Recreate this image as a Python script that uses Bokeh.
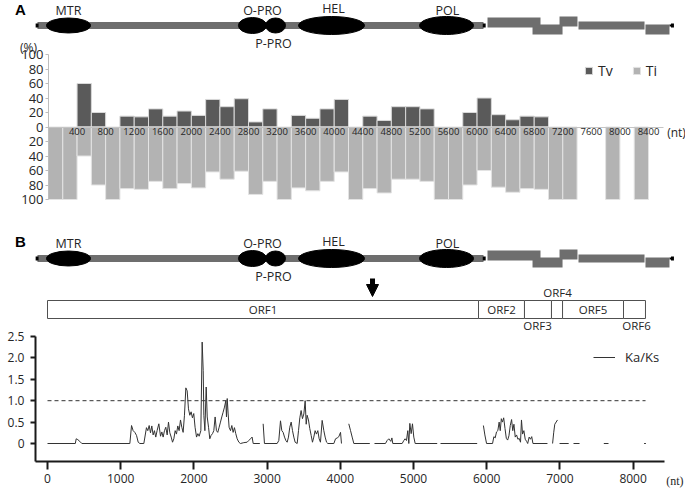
import numpy as np
from bokeh.plotting import figure
from bokeh.models import (Range1d, LinearAxis, FixedTicker, Legend, LegendItem,
                          Arrow, NormalHead, NumeralTickFormatter)
from bokeh.layouts import column
from bokeh.embed import file_html
from bokeh.resources import INLINE
from bokeh.core.properties import value

# ------------------------------------------------------------------ data
# Panel A: transversion / transition share per 200-nt window
bin_start = list(range(0, 8400, 200))
tv = [0, 0, 60, 20, 0, 15, 14, 25, 15, 22, 16, 38, 28, 39, 7, 25, 0, 16, 12, 25, 38,
      0, 15, 9, 28, 28, 25, 0, 0, 20, 40, 17, 10, 15, 14, 0, 0, 0, 0, 0, 0, 0]
ti = [100, 100, 40, 80, 100, 85, 86, 75, 85, 78, 84, 62, 72, 61, 93, 75, 100, 84, 88, 75, 62,
      100, 85, 91, 72, 72, 75, 100, 100, 80, 60, 83, 90, 85, 86, 100, 100, 0, 0, 100, 0, 100]
bar_ticks = list(range(400, 8401, 400))
pct_ticks = list(range(-100, 101, 20))

# genome schematic (nt)
genome_start, genome_end, orf1_region_end = -137, 8538, 5956
domain_names = ["MTR", "O-PRO", "P-PRO", "HEL", "POL"]
domain_center = [287, 2800, 3115, 3880, 5451]
domain_width = [601, 383, 273, 902, 738]
domain_label_x = [287, 2937, 3087, 3907, 5464]
sg_start = [6011, 6626, 6995, 7254, 8169]
sg_end = [6735, 7036, 7240, 8156, 8497]

# ORFs (nt)
orf_names = ["ORF1", "ORF2", "ORF3", "ORF4", "ORF5", "ORF6"]
orf_start = [0, 5888, 6516, 6885, 7036, 7869]
orf_end = [5888, 6516, 6885, 7036, 7869, 8169]
orf_label_x = [2944, 6202, 6694, 6967, 7453, 8046]
arrow_nt = 4440

# Panel B: Ka/Ks sliding window
nan = float("nan")
kaks_nt = [0, 380, 392, 414, 441, 469, 1125, 1148, 1170, 1193, 1216, 1239, 1262, 1316, 1352, 1370,
           1389, 1407, 1425, 1443, 1461, 1479, 1497, 1521, 1544, 1562, 1580, 1598, 1616, 1635, 1653,
           1671, 1690, 1708, 1726, 1744, 1762, 1780, 1798, 1817, 1835, 1853, 1871, 1890, 1908, 1926,
           1944, 1962, 1980, 1998, 2016, 2036, 2054, 2072, 2095, 2113, 2127, 2136, 2150, 2168, 2182,
           2200, 2217, 2235, 2254, 2272, 2290, 2308, 2326, 2345, 2363, 2381, 2399, 2418, 2436, 2445,
           2455, 2468, 2481, 2500, 2518, 2536, 2554, 2572, 2591, 2614, 2636, 2682, 2727, 2750, 2773,
           2795, 2810, 2901, nan,
           2946, 2964, 3137, 3160, 3183, 3201, 3219, 3238, 3256, 3274, 3292, 3310, 3329, 3347, 3365,
           3383, 3411, 3429, 3447, 3465, 3483, 3502, 3520, 3534, 3547, 3565, 3583, 3602, 3620, 3638,
           3656, 3674, 3693, 3711, 3729, 3752, 3775, 3793, 3812, 3830, 3912, 3935, 3958, 3980, 4003,
           4016, nan,
           4116, 4140, 4162, 4185, 4403, nan,
           4467, 4617, 4640, 4663, 4690, 4705, 4717, 4845, 4868, 4885, 4904, 4922, 4936, 4950, 4968,
           4986, 5004, 5023, 5324, nan,
           5369, 5870, nan,
           5955, 5975, 5998, 6080, 6098, 6116, 6134, 6152, 6170, 6185, 6200, 6215, 6232, 6250, 6268,
           6286, 6304, 6322, 6340, 6356, 6372, 6390, 6408, 6426, 6444, 6462, 6475, 6490, 6508, 6526,
           6545, 6560, 6580, 6598, 6615, 6632, 6830, nan,
           6900, 6915, 6930, 6967, nan,
           6995, 7120, nan,
           7186, 7268, nan,
           7600, 7664, nan,
           8150, 8175]
kaks = [0, 0, 0.11, 0.09, 0.05, 0, 0, 0.42, 0.3, 0.26, 0.19, 0.03, 0, 0, 0.37, 0.3,
        0.42, 0.25, 0.41, 0.2, 0.3, 0.15, 0.3, 0.46, 0.17, 0.27, 0.15, 0.3, 0.38, 0.2, 0.5,
        0.25, 0.15, 0.03, 0.11, 0.3, 0.22, 0.41, 0.3, 0.55, 0.38, 0.26, 0.66, 1.3, 1.23, 0.81,
        0.66, 0.74, 0.6, 0.7, 0.38, 0.15, 0.23, 0.17, 0.3, 2.37, 1.71, 0.66, 0.3, 1.32, 0.62,
        0.38, 0.11, 0.19, 0.23, 0.3, 0.62, 0.3, 0.26, 0.38, 0.5, 0.62, 0.73, 0.85, 1.0, 0.62,
        1.05, 0.69, 0.38, 0.3, 0.42, 0.26, 0.37, 0.23, 0.11, 0.03, 0, 0.02, 0.03, 0.07, 0.11,
        0.15, 0, 0, nan,
        0.46, 0, 0, 0.07, 0.53, 0.3, 0.26, 0.15, 0.07, 0.03, 0.15, 0.38, 0.5, 0.3, 0.15,
        0.03, 0, 0.3, 0.6, 0.77, 0.58, 0.69, 1.0, 0.45, 0.66, 0.55, 0.35, 0.19, 0.03, 0.15,
        0.3, 0.22, 0.3, 0.11, 0.03, 0.54, 0.3, 0.15, 0.03, 0, 0, 0.11, 0.13, 0.16, 0.26,
        0, nan,
        0.46, 0.3, 0.15, 0, 0, nan,
        0, 0, 0.07, 0.11, 0.05, 0.13, 0, 0, 0.07, 0.11, 0.07, 0.3, 0, 0.47, 0.23,
        0.46, 0.15, 0, 0, nan,
        0, 0, nan,
        0.42, 0.2, 0, 0, 0.16, 0.13, 0.27, 0.3, 0.5, 0.3, 0.58, 0.5, 0.6, 0.35, 0.12,
        0.08, 0.18, 0.42, 0.56, 0.3, 0.45, 0.15, 0.2, 0.1, 0.12, 0.03, 0.55, 0.22, 0.3, 0.1,
        0.05, 0, 0.15, 0.1, 0.16, 0, 0, nan,
        0, 0.25, 0.45, 0.55, nan,
        0, 0, nan,
        0, 0, nan,
        0, 0, nan,
        0, 0]
neutral_level = 1.0
neutral_span = [0, 8170]
line_ticks = list(range(0, 8001, 1000))
kaks_ticks = [0, 0.5, 1.0, 1.5, 2.0, 2.5]

# ------------------------------------------------------------------ layout / style
W = 685
kA = 600 / 8400.0     # px per nt, panel A bar chart
kB = 0.0732           # px per nt, panel B
FONT = "Open Sans"
TXT = "#262626"
GRAY = "#6e6e6e"
domain_height = [15, 16, 15, 18, 18]
domain_label_dy = [15, 15, -18, 17, 15]
sg_bottom = [-2, -9, -1, -4, -9]
sg_top = [8, 1, 9, 4, 1]


def draw_genome(p, xr, yr):
    kw = dict(x_range_name=xr, y_range_name=yr)
    p.quad(left=[genome_start], right=[orf1_region_end], bottom=[-3.5], top=[3.5],
           fill_color=GRAY, line_color=None, **kw)
    p.quad(left=[sg_end[-1]], right=[genome_end], bottom=[-1], top=[1],
           fill_color="black", line_color=None, **kw)
    p.quad(left=sg_start, right=sg_end, bottom=sg_bottom, top=sg_top,
           fill_color=GRAY, line_color=None, **kw)
    p.quad(left=[genome_start - 25, orf1_region_end - 10, genome_end - 20],
           right=[genome_start + 15, orf1_region_end + 30, genome_end + 20],
           bottom=[-2, -2, -2], top=[2, 2, 2], fill_color="black", line_color=None, **kw)
    p.ellipse(x=domain_center, y=[0] * 5, width=domain_width, height=domain_height,
              fill_color="black", line_color="black", **kw)
    p.text(x=domain_label_x, y=domain_label_dy, text=domain_names, text_font=value(FONT),
           text_font_size="12.5px", text_color=TXT, text_align="center",
           text_baseline="middle", **kw)


# ------------------------------------------------------------------ panel A
HA = 222
figA = figure(width=W, height=HA, x_range=Range1d(-48 / kA, 637 / kA),
              y_range=Range1d(-(HA - 126.5) / 0.725, 126.5 / 0.725),
              x_axis_type=None, y_axis_type=None, toolbar_location=None,
              output_backend="svg", min_border=0, outline_line_color=None)
figA.extra_x_ranges = {"gx": Range1d(-47 / kB, 638 / kB)}
figA.extra_y_ranges = {"gy": Range1d(25 - HA, 25)}

draw_genome(figA, "gx", "gy")
figA.text(x=[-369], y=[16], text=["A"], text_font=value("Liberation Sans"),
          text_font_style="bold", text_font_size="15px", text_color="black",
          text_align="center", text_baseline="middle", x_range_name="gx", y_range_name="gy")

tv_x = [s + 100 for s, v in zip(bin_start, tv) if v > 0]
tv_v = [v for v in tv if v > 0]
ti_x = [s + 100 for s, v in zip(bin_start, ti) if v > 0]
ti_v = [-v for v in ti if v > 0]
r_tv = figA.vbar(x=tv_x, width=200, bottom=0, top=tv_v, fill_color="#5a5a5a",
                 line_color="#d9d9d9", line_width=1)
r_ti = figA.vbar(x=ti_x, width=200, bottom=ti_v, top=0, fill_color="#b3b3b3",
                 line_color="#e3e3e3", line_width=1)

ya = LinearAxis(fixed_location=0, bounds=(-100, 100), ticker=FixedTicker(ticks=pct_ticks),
                major_label_overrides={t: str(abs(t)) for t in pct_ticks},
                axis_line_color="#bdbdbd", major_tick_line_color="#bdbdbd",
                major_tick_out=3, major_tick_in=0, minor_tick_line_color=None,
                major_label_standoff=2, major_label_text_font=FONT,
                major_label_text_font_size="13px", major_label_text_color=TXT)
figA.add_layout(ya, "left")
xa = LinearAxis(fixed_location=0, bounds=(0, 8610), ticker=FixedTicker(ticks=bar_ticks),
                axis_line_color="#c4c4c4", major_tick_line_color=None, major_tick_out=0,
                major_tick_in=0, minor_tick_line_color=None, major_label_standoff=1,
                major_label_text_font=FONT, major_label_text_font_size="9.5px",
                major_label_text_color=TXT)
figA.add_layout(xa, "below")

figA.text(x=[-280], y=[109.7], text=["(%)"], text_font=value(FONT), text_font_size="12px",
          text_color=TXT, text_align="center", text_baseline="middle")
figA.text(x=[8792], y=[-7.6], text=["(nt)"], text_font=value(FONT), text_font_size="12px",
          text_color=TXT, text_align="center", text_baseline="middle")

legA = Legend(items=[LegendItem(label="Tv", renderers=[r_tv]),
                     LegendItem(label="Ti", renderers=[r_ti])],
              orientation="horizontal", location=(584, HA - 79.5), padding=0, margin=0,
              spacing=19, glyph_width=9, glyph_height=9, label_height=9, label_width=10,
              label_standoff=5, border_line_color=None, background_fill_alpha=0,
              label_text_font=FONT, label_text_font_size="14px", label_text_color=TXT)
figA.add_layout(legA)

# ------------------------------------------------------------------ panel B
HB = 488 - HA
topB = HA
figB = figure(width=W, height=HB, x_range=Range1d(-47 / kB, 638 / kB),
              y_range=Range1d(-(488 - 443) / 42.8, (443 - topB) / 42.8),
              x_axis_type=None, y_axis_type=None, toolbar_location=None,
              output_backend="svg", min_border=0, outline_line_color=None)
figB.extra_y_ranges = {"gy": Range1d(258 - 488, 258 - topB)}

draw_genome(figB, "default", "gy")
figB.text(x=[-369], y=[17], text=["B"], text_font=value("Liberation Sans"),
          text_font_style="bold", text_font_size="15px", text_color="black",
          text_align="center", text_baseline="middle", y_range_name="gy")

figB.add_layout(Arrow(end=NormalHead(size=12, fill_color="black", line_color="black"),
                      x_start=arrow_nt, y_start=-20, x_end=arrow_nt, y_end=-38,
                      line_width=5, line_color="black", y_range_name="gy"))

figB.quad(left=orf_start, right=orf_end, bottom=-60, top=-42, fill_color="white",
          line_color="#505050", line_width=1, y_range_name="gy")
figB.text(x=orf_label_x, y=[-51, -51, -67, -34, -51, -67], text=orf_names,
          text_font=value(FONT), text_font_size="11.5px", text_color=TXT,
          text_align="center", text_baseline="middle", y_range_name="gy")

figB.line(x=neutral_span, y=[neutral_level, neutral_level], line_color="#333333",
          line_width=1, line_dash="4 3")
r_k = figB.line(x=kaks_nt, y=kaks, line_color="#333333", line_width=1)

yb = LinearAxis(fixed_location=-164, bounds=(-0.42, 2.5), ticker=FixedTicker(ticks=kaks_ticks),
                formatter=NumeralTickFormatter(format="0.0"), major_label_overrides={0: "0"},
                axis_line_width=2, axis_line_color="#1a1a1a", major_tick_line_width=2,
                major_tick_line_color="#1a1a1a", major_tick_out=5, major_tick_in=0,
                minor_tick_line_color=None, major_label_standoff=6,
                major_label_text_font=FONT, major_label_text_font_size="12px",
                major_label_text_color=TXT)
figB.add_layout(yb, "left")
xb = LinearAxis(fixed_location=-0.42, bounds=(-164, 8427), ticker=FixedTicker(ticks=line_ticks),
                axis_line_width=2, axis_line_color="#1a1a1a", major_tick_line_width=2,
                major_tick_line_color="#1a1a1a", major_tick_out=8, major_tick_in=0,
                minor_tick_line_color=None, major_label_standoff=5,
                major_label_text_font=FONT, major_label_text_font_size="12px",
                major_label_text_color=TXT)
figB.add_layout(xb, "below")

figB.text(x=[8690], y=[-0.87], text=["(nt)"], text_font=value("Liberation Serif"),
          text_font_size="12px", text_color=TXT, text_align="right", text_baseline="middle")

legB = Legend(items=[LegendItem(label="Ka/Ks", renderers=[r_k])], location=(593, 488 - 366),
              padding=0, margin=0, glyph_width=22, glyph_height=14, label_height=14,
              label_standoff=10, border_line_color=None, background_fill_alpha=0,
              label_text_font=FONT, label_text_font_size="13px", label_text_color=TXT)
figB.add_layout(legB)

layout = column(figA, figB, spacing=0)
open("out.html", "w").write(file_html(layout, INLINE))
